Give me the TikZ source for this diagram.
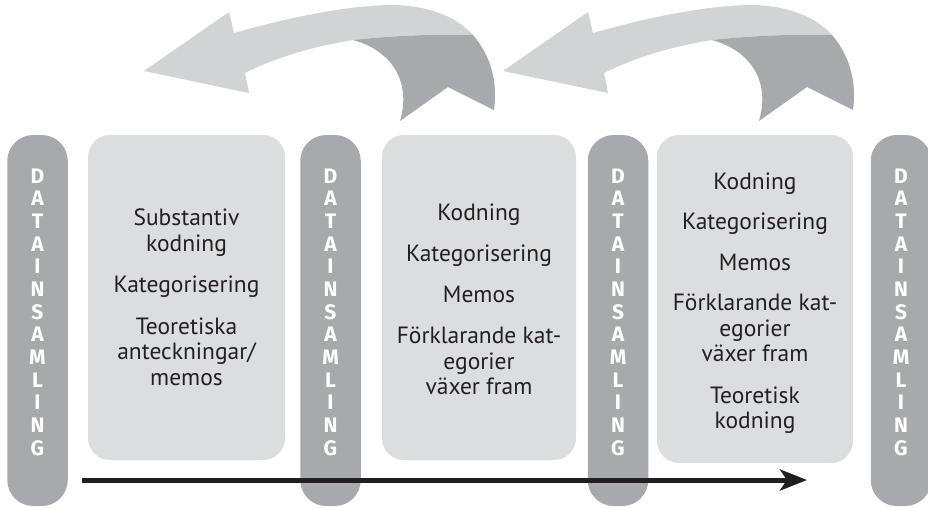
\documentclass[tikz,border=0pt]{standalone}
\usepackage{fontspec}
\setmainfont{PT Sans}
\newfontfamily\pillarfont{Fira Sans}
\usetikzlibrary{arrows.meta}
\definecolor{pillargray}{HTML}{A7A9AC}
\definecolor{boxgray}{HTML}{DCDDDE}
\definecolor{arrowlight}{HTML}{D1D3D4}
\definecolor{arrowdark}{HTML}{A7A9AC}
\definecolor{ink}{HTML}{231F20}
\begin{document}
\begin{tikzpicture}[x=1pt,y=-1pt,
  pillar/.style={fill=pillargray, rounded corners=26pt, minimum width=60.5pt, minimum height=371pt, inner sep=0pt, draw=none},
  stepbox/.style={fill=boxgray, rounded corners=22pt, minimum width=196pt, minimum height=325pt, inner sep=0pt, draw=none},
  pillarletter/.style={text=white, font=\pillarfont\bfseries\fontsize{21}{24}\selectfont, inner sep=0pt, anchor=center},
  boxtext/.style={text=ink, font=\fontsize{23.5}{25.5}\selectfont, align=center, inner sep=0pt},
  ribbonlight/.style={fill=arrowlight},
  ribbondark/.style={fill=arrowdark},
  timeline/.style={draw=ink, line width=5pt, -{Stealth[length=27pt,width=21pt,inset=7pt]}}]
\clip (0,0) rectangle (928,507);
\fill[white] (0,0) rectangle (928,507);

% pillars
\node[pillar] (p1) at (37.5,320.5) {};
\node[pillar] (p2) at (330.5,320.5) {};
\node[pillar] (p3) at (618,320.5) {};
\node[pillar] (p4) at (901,320.5) {};
\foreach \n/\px in {1/37.5,2/330.5,3/618,4/901}{
  \foreach \L [count=\i from 0] in {D,A,T,A,I,N,S,A,M,L,I,N,G}{
    \node[pillarletter] (t\n-\i) at (\px,{176+22.67*\i}) {\vphantom{D}\L};
  }
}

% boxes
\node[stepbox, minimum width=197pt] (b1) at (186.5,297.5) {};
\node[stepbox, minimum width=194pt] (b2) at (479,297.5) {};
\node[stepbox, minimum height=328pt] (b3) at (755,299) {};

\node[boxtext] (b1t) at (186.5,297.5) {Substantiv\\kodning\\[16pt]Kategorisering\\[16pt]Teoretiska\\anteckningar/\\memos};
\node[boxtext] (b2t) at (479,299.5) {Kodning\\[15.5pt]Kategorisering\\[15.5pt]Memos\\[15.5pt]Förklarande kat-\\egorier\\växer fram};
\node[boxtext] (b3t) at (755,303) {Kodning\\[15pt]Kategorisering\\[15pt]Memos\\[15pt]Förklarande kat-\\egorier\\växer fram\\[16pt]Teoretisk\\kodning};

% curved ribbon arrows
\foreach \s in {0,359}{
\begin{scope}[xshift=\s pt]
\fill[ribbonlight] (144,71) -- (229,12) -- (234,33) .. controls (280,20) and (340,6) .. (390,5) .. controls (425,5) and (455,15) .. (473,35) .. controls (430,34) and (390,36) .. (353,40) .. controls (310,47) and (275,58) .. (245,73) -- (249,93) -- cycle;
\fill[ribbondark] (353,40) .. controls (390,50) and (412,80) .. (400,121) -- (448,87) -- (494,110) .. controls (498,80) and (490,55) .. (473,35) .. controls (430,34) and (390,36) .. (353,40) -- cycle;
\end{scope}
}

% time line
\coordinate (ts) at (82,480);
\coordinate (te) at (807,480);
\draw[timeline] (ts) -- (te);
\end{tikzpicture}
\end{document}
